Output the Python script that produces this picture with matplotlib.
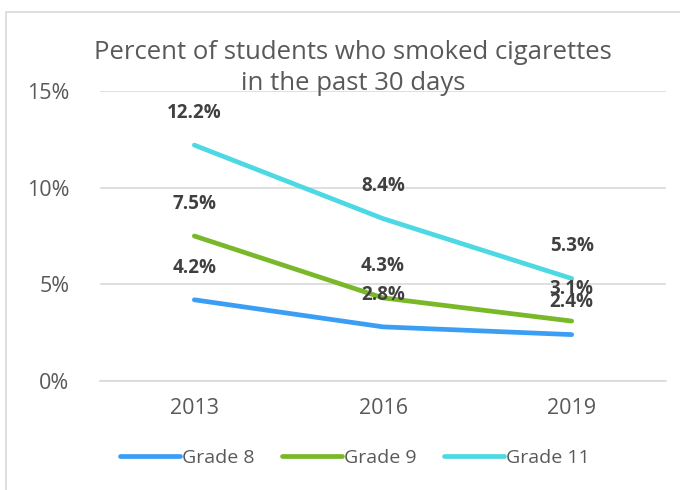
import matplotlib
matplotlib.use("Agg")
import matplotlib.pyplot as plt
from matplotlib.patches import Rectangle

years = ["2013", "2016", "2019"]
grade8 = [4.2, 2.8, 2.4]
grade9 = [7.5, 4.3, 3.1]
grade11 = [12.2, 8.4, 5.3]
series_names = ["Grade 8", "Grade 9", "Grade 11"]
colors = ["#3A9EF5", "#78B829", "#4DD9E3"]

plt.rcParams['font.family'] = ['Open Sans', 'DejaVu Sans']

fig = plt.figure(figsize=(6.8, 4.9), dpi=100)
W, H = 680, 490
ax = fig.add_axes([100 / W, (H - 381) / H, 566 / W, 290 / H])

x = list(range(len(years)))
for vals, name, c in zip([grade8, grade9, grade11], series_names, colors):
    ax.plot(x, vals, color=c, lw=3.4, solid_capstyle='round', label=name, zorder=3)
    for xi, v in zip(x, vals):
        ax.annotate(f"{v}%", (xi, v), xytext=(0, 16), textcoords='offset points',
                    ha='center', va='bottom', fontsize=13.5, fontweight='bold',
                    color='#404040', zorder=5)

ax.set_xlim(-0.5, 2.5)
ax.set_ylim(0, 15)
ax.set_yticks([0, 5, 10, 15])
ax.set_yticklabels(["0%", "5%", "10%", "15%"])
ax.set_xticks(x)
ax.set_xticklabels(years)
ax.tick_params(axis='both', length=0, labelsize=15.5, colors='#595959')
ax.tick_params(axis='y', pad=22)
ax.tick_params(axis='x', pad=12)
ax.grid(axis='y', color='#D9D9D9', lw=1.2, zorder=0)
for s in ax.spines.values():
    s.set_visible(False)
ax.spines['bottom'].set_visible(True)
ax.spines['bottom'].set_color('#D9D9D9')
ax.spines['bottom'].set_linewidth(1.2)

fig.text(353 / W, 1 - 68 / H, "Percent of students who smoked cigarettes\nin the past 30 days",
         ha='center', va='center', fontsize=18.5, color='#595959', linespacing=1.35)

leg = fig.legend(loc='center', bbox_to_anchor=(355 / W, 1 - 458 / H), ncol=3, frameon=False,
                 fontsize=14, handlelength=3.1, handletextpad=0.1, columnspacing=1.4)
for t in leg.get_texts():
    t.set_color('#595959')

fig.patches.append(Rectangle((6 / W, -0.1), 1.1, (H - 12) / H + 0.1, transform=fig.transFigure,
                             fill=False, edgecolor='#D9D9D9', lw=1.2))

fig.savefig("out.png", dpi=100)
